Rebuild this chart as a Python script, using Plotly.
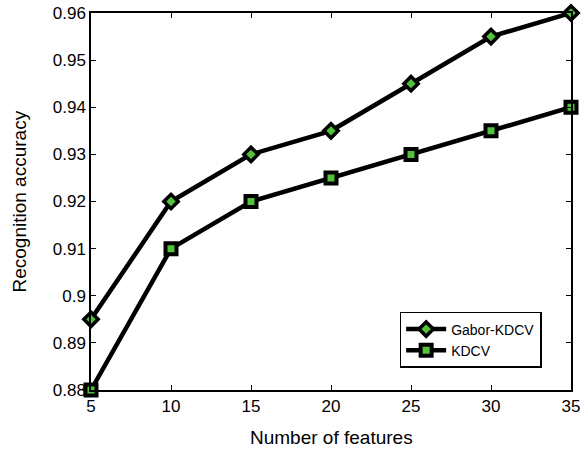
import plotly.graph_objects as go

features = [5, 10, 15, 20, 25, 30, 35]
gabor_kdcv = [0.895, 0.92, 0.93, 0.935, 0.945, 0.955, 0.96]
kdcv = [0.88, 0.91, 0.92, 0.925, 0.93, 0.935, 0.94]
x_ticks = [5, 10, 15, 20, 25, 30, 35]
y_ticks = [0.88, 0.89, 0.9, 0.91, 0.92, 0.93, 0.94, 0.95, 0.96]
y_tick_text = ["0.88", "0.89", "0.9", "0.91", "0.92", "0.93", "0.94", "0.95", "0.96"]

green = "#52c23c"
FONT = "Liberation Sans, Arial, Helvetica"
fig = go.Figure()
fig.add_trace(go.Scatter(
    x=features, y=gabor_kdcv, name="Gabor-KDCV", mode="lines+markers",
    line=dict(color="black", width=4.5),
    marker=dict(symbol="diamond", size=11, color=green, line=dict(color="black", width=3.5)),
    cliponaxis=False,
))
fig.add_trace(go.Scatter(
    x=features, y=kdcv, name="KDCV", mode="lines+markers",
    line=dict(color="black", width=4.5),
    marker=dict(symbol="square", size=11, color=green, line=dict(color="black", width=4)),
    cliponaxis=False,
))

axis_common = dict(
    showline=True, linecolor="black", linewidth=1.5, mirror="ticks",
    ticks="inside", ticklen=5, tickcolor="black", tickwidth=1,
    showgrid=False, zeroline=False, automargin=False,
    tickfont=dict(family=FONT, size=17, color="black"),
)
fig.update_xaxes(range=[5, 35], tickvals=x_ticks, **axis_common)
fig.update_yaxes(range=[0.88, 0.96], tickvals=y_ticks, ticktext=y_tick_text, **axis_common)

fig.add_annotation(text="Number of features", xref="paper", yref="paper",
                   x=0.5, y=-0.125, xanchor="center", yanchor="middle", showarrow=False,
                   font=dict(family=FONT, size=19, color="black"))
fig.add_annotation(text="Recognition accuracy", xref="paper", yref="paper",
                   x=-0.15, y=0.5, xanchor="center", yanchor="middle", showarrow=False,
                   textangle=-90, font=dict(family=FONT, size=19, color="black"))

fig.update_layout(
    width=587, height=449,
    margin=dict(l=91, r=16, t=13, b=59),
    plot_bgcolor="white", paper_bgcolor="white",
    showlegend=True,
    legend=dict(
        x=0.643, y=0.207, xanchor="left", yanchor="top",
        bordercolor="black", borderwidth=1.5, bgcolor="white",
        font=dict(family=FONT, size=14, color="black"),
        tracegroupgap=0, itemwidth=40,
    ),
)
fig.write_html("out.html")
